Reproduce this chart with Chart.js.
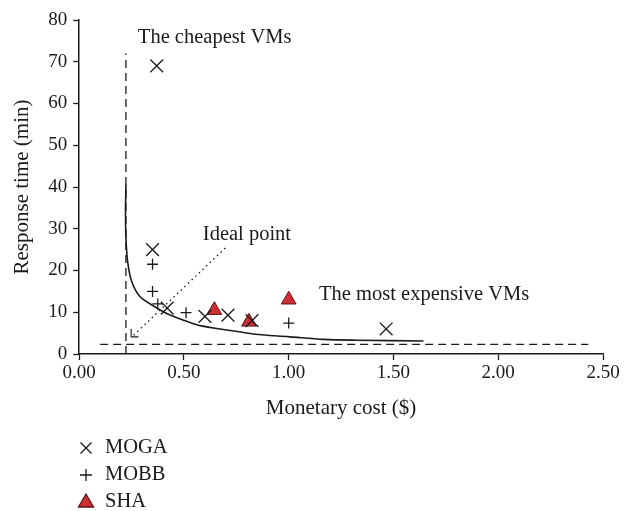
<!DOCTYPE html>
<html>
<head>
<meta charset="utf-8">
<script src="https://cdn.jsdelivr.net/npm/chart.js@4/dist/chart.umd.min.js"></script>
<style>
  html, body { margin: 0; padding: 0; background: #fff; }
  #wrap { width: 634px; height: 511px; position: relative; }
</style>
</head>
<body>
<div id="wrap"><canvas id="costChart"></canvas></div>
<script>
// solutions found by each scheduler (cost $, time min)
var mogaPoints = [
    { x: 0.37, y: 69 }, { x: 0.35, y: 25 }, { x: 0.42, y: 11 }, { x: 0.60, y: 9 },
    { x: 0.71, y: 9.3 }, { x: 0.825, y: 8 }, { x: 1.465, y: 6 }
];
var mobbPoints = [
    { x: 0.35, y: 21.5 }, { x: 0.35, y: 15 }, { x: 0.375, y: 12 }, { x: 0.51, y: 9.9 }, { x: 1.0, y: 7.4 }
];
var shaPoints = [
    { x: 0.645, y: 10.5 }, { x: 0.81, y: 7.7 }, { x: 1.0, y: 13 }
];

// pareto front curve
var frontCurve = [
    { x: 0.223, y: 40.6 }, { x: 0.221, y: 34 }, { x: 0.223, y: 28 }, { x: 0.231, y: 22.2 },
    { x: 0.251, y: 17.3 }, { x: 0.291, y: 13.7 }, { x: 0.355, y: 11.5 }, { x: 0.418, y: 9.7 },
    { x: 0.498, y: 8.1 }, { x: 0.569, y: 6.9 }, { x: 0.712, y: 5.7 }, { x: 0.87, y: 4.6 },
    { x: 1.007, y: 4.1 }, { x: 1.166, y: 3.5 }, { x: 1.325, y: 3.3 }, { x: 1.643, y: 3.1 }
];

// bounds and ideal point pointer
var cheapestBound = [{ x: 0.223, y: 0 }, { x: 0.223, y: 72 }];
var fastestBound = [{ x: 0.10, y: 2.3 }, { x: 2.43, y: 2.3 }];
var idealPointer = [{ x: 0.26, y: 4.5 }, { x: 0.70, y: 25.5 }];
var idealHead = [{ x: 0.248, y: 6.0 }, { x: 0.248, y: 4.1 }, { x: 0.283, y: 4.1 }];

var xTicks = [0, 0.5, 1.0, 1.5, 2.0, 2.5];
var yTicks = [0, 10, 20, 30, 40, 50, 60, 70, 80];

var notes = [
    { text: 'The cheapest VMs', x: 0.28, y: 75.9 },
    { text: 'Ideal point', x: 0.59, y: 28.7 },
    { text: 'The most expensive VMs', x: 1.145, y: 14.2 }
];

var serif = '"Liberation Serif", "Times New Roman", serif';
var ink = '#1a1a1a';
var shaFill = '#cf2e35';
var shaEdge = '#5e1414';

// notes on the plot and the legend under it
var notesPlugin = {
    id: 'notesPlugin',
    afterDraw: function (chart) {
        var ctx = chart.ctx;
        var xs = chart.scales.x, ys = chart.scales.y;
        ctx.save();
        ctx.fillStyle = ink;
        ctx.font = '20.5px ' + serif;
        ctx.textBaseline = 'middle';
        ctx.textAlign = 'left';
        notes.forEach(function (n) {
            ctx.fillText(n.text, xs.getPixelForValue(n.x), ys.getPixelForValue(n.y));
        });

        var items = [
            { label: 'MOGA', style: 'crossRot' },
            { label: 'MOBB', style: 'cross' },
            { label: 'SHA', style: 'triangle' }
        ];
        var lx = 86, ly = 448;
        ctx.strokeStyle = ink;
        ctx.lineWidth = 1.3;
        items.forEach(function (it, i) {
            var y = ly + i * 27;
            ctx.beginPath();
            if (it.style === 'crossRot') {
                ctx.moveTo(lx - 5.5, y - 5.5); ctx.lineTo(lx + 5.5, y + 5.5);
                ctx.moveTo(lx - 5.5, y + 5.5); ctx.lineTo(lx + 5.5, y - 5.5);
                ctx.stroke();
            } else if (it.style === 'cross') {
                ctx.moveTo(lx - 6, y); ctx.lineTo(lx + 6, y);
                ctx.moveTo(lx, y - 6); ctx.lineTo(lx, y + 6);
                ctx.stroke();
            } else {
                ctx.moveTo(lx, y - 8); ctx.lineTo(lx + 7.5, y + 5); ctx.lineTo(lx - 7.5, y + 5);
                ctx.closePath();
                ctx.fillStyle = shaFill;
                ctx.fill();
                ctx.strokeStyle = shaEdge;
                ctx.stroke();
            }
            ctx.fillStyle = ink;
            ctx.fillText(it.label, 105, y);
        });
        ctx.restore();
    }
};

var ctxC = document.getElementById('costChart').getContext('2d');
var costChart = new Chart(ctxC, {
    type: 'scatter',
    data: {
        datasets: [{
            label: 'MOGA',
            data: mogaPoints,
            pointStyle: 'crossRot',
            pointRadius: 9,
            borderColor: ink,
            borderWidth: 1.3,
            showLine: false
        },
        {
            label: 'MOBB',
            data: mobbPoints,
            pointStyle: 'cross',
            pointRadius: 5.5,
            borderColor: ink,
            borderWidth: 1.3,
            showLine: false
        },
        {
            label: 'SHA',
            data: shaPoints,
            pointStyle: 'triangle',
            pointRadius: 8.5,
            backgroundColor: shaFill,
            borderColor: shaEdge,
            borderWidth: 1,
            showLine: false
        },
        {
            label: 'front',
            data: frontCurve,
            showLine: true,
            tension: 0.3,
            pointRadius: 0,
            borderColor: ink,
            borderWidth: 1.6
        },
        {
            label: 'cheapest',
            data: cheapestBound,
            showLine: true,
            pointRadius: 0,
            borderColor: ink,
            borderWidth: 1.3,
            borderDash: [8, 5]
        },
        {
            label: 'fastest',
            data: fastestBound,
            showLine: true,
            pointRadius: 0,
            borderColor: ink,
            borderWidth: 1.3,
            borderDash: [8, 5]
        },
        {
            label: 'ideal',
            data: idealPointer,
            showLine: true,
            pointRadius: 0,
            borderColor: ink,
            borderWidth: 1.3,
            borderDash: [1.5, 3.5]
        },
        {
            label: 'idealHead',
            data: idealHead,
            showLine: true,
            pointRadius: 0,
            borderColor: ink,
            borderWidth: 1.1
        }
        ]
    },
    options: {
        responsive: true,
        maintainAspectRatio: false,
        animation: false,
        layout: { padding: { left: 5, right: 31, top: 20, bottom: 90 } },
        plugins: {
            legend: { display: false },
            tooltip: { enabled: false }
        },
        scales: {
            x: {
                type: 'linear',
                min: 0,
                max: 2.5,
                afterBuildTicks: function (axis) {
                    axis.ticks = xTicks.map(function (v) { return { value: v }; });
                },
                ticks: {
                    color: ink,
                    font: { family: serif, size: 19 },
                    padding: 2,
                    callback: function (v) { return Number(v).toFixed(2); }
                },
                grid: { drawOnChartArea: false, drawTicks: true, tickLength: 6, tickColor: ink, tickWidth: 1.3 },
                border: { color: ink, width: 1.5 },
                title: {
                    display: true,
                    text: 'Monetary cost ($)',
                    color: ink,
                    font: { family: serif, size: 21 },
                    padding: { top: 9, bottom: 0 }
                }
            },
            y: {
                type: 'linear',
                min: 0,
                max: 80,
                afterBuildTicks: function (axis) {
                    axis.ticks = yTicks.map(function (v) { return { value: v }; });
                },
                ticks: {
                    color: ink,
                    font: { family: serif, size: 19 },
                    padding: 6
                },
                grid: { drawOnChartArea: false, drawTicks: true, tickLength: 6, tickColor: ink, tickWidth: 1.3 },
                border: { color: ink, width: 1.5 },
                title: {
                    display: true,
                    text: 'Response time (min)',
                    color: ink,
                    font: { family: serif, size: 21 },
                    padding: { top: 5, bottom: 7 }
                }
            }
        }
    },
    plugins: [notesPlugin]
});
</script>
</body>
</html>
